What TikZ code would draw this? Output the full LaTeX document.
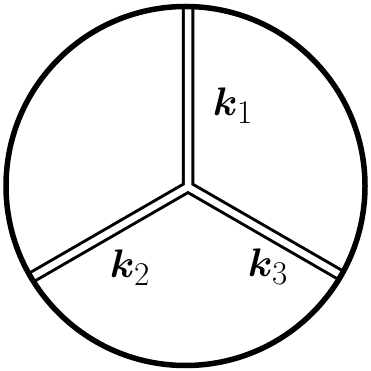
\documentclass[tikz,border=0pt]{standalone}
\usepackage{bm}
\usepackage{graphicx}
\begin{document}
\begin{tikzpicture}[x=1pt,y=1pt,
  propline/.style={draw=black,line width=3pt,double=white,double distance=6.5pt,line join=miter},
  rim/.style={draw=black,line width=5.5pt},
  lab/.style={font=\Huge,inner sep=0pt}]
\useasboundingbox (0,0) rectangle (370,371);
\coordinate (C) at (185.5,185);
\coordinate (J) at (188,184);
\coordinate (T) at (188,366);
\coordinate (A) at (31.1,93.4);
\coordinate (B) at (341.1,95.6);
\draw[propline] (T) -- (J) -- (A) (J) -- (B);
\draw[rim] (C) circle[radius=179.5];
\node[lab] (k1) at (233,265) {\scalebox{1.6}{$\bm{k}_1$}};
\node[lab] (k2) at (130,103) {\scalebox{1.6}{$\bm{k}_2$}};
\node[lab] (k3) at (268,104) {\scalebox{1.6}{$\bm{k}_3$}};
\end{tikzpicture}
\end{document}
